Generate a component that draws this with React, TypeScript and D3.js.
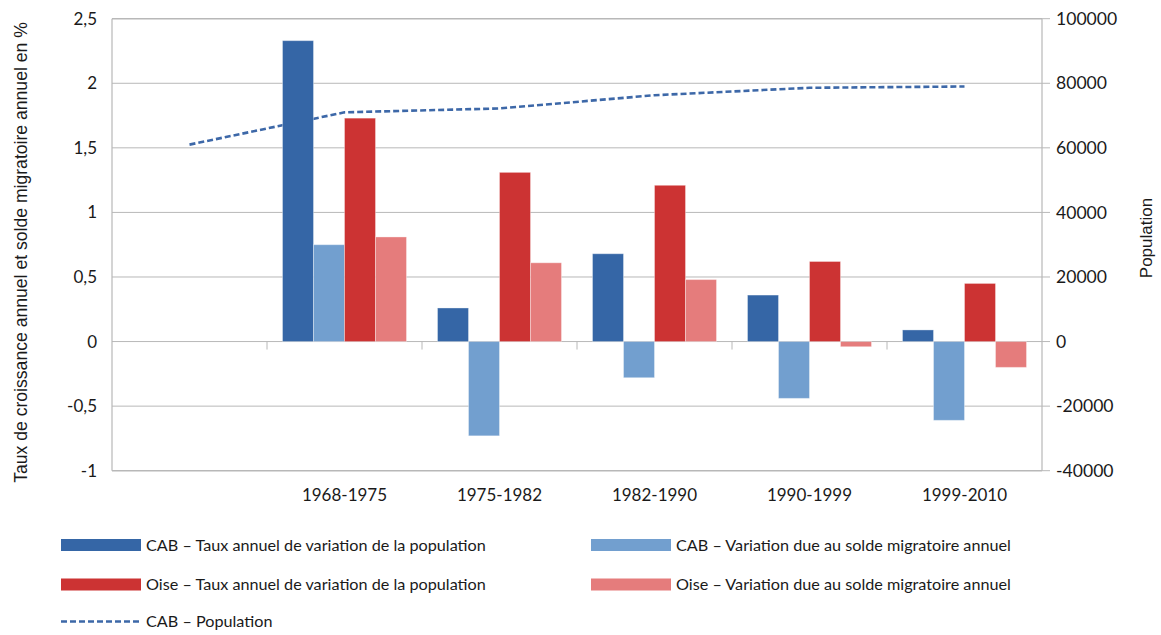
import React from "react";
import * as d3 from "d3";

const categories = ["", "1968-1975", "1975-1982", "1982-1990", "1990-1999", "1999-2010"];
const cabTaux: (number | null)[] = [null, 2.33, 0.26, 0.68, 0.36, 0.09];
const cabMigr: (number | null)[] = [null, 0.75, -0.73, -0.28, -0.44, -0.61];
const oiseTaux: (number | null)[] = [null, 1.73, 1.31, 1.21, 0.62, 0.45];
const oiseMigr: (number | null)[] = [null, 0.81, 0.61, 0.48, -0.04, -0.2];
const cabPopulation = [61000, 71000, 72200, 76300, 78600, 79000];

const leftTicks = [-1, -0.5, 0, 0.5, 1, 1.5, 2, 2.5];
const rightTicks = [-40000, -20000, 0, 20000, 40000, 60000, 80000, 100000];

const seriesNames = [
  "CAB – Taux annuel de variation de la population",
  "CAB – Variation due au solde migratoire annuel",
  "Oise – Taux annuel de variation de la population",
  "Oise – Variation due au solde migratoire annuel",
];
const lineName = "CAB – Population";
const leftTitle = "Taux de croissance annuel et solde migratoire annuel en %";
const rightTitle = "Population";

const colors = ["#3566A6", "#729FCF", "#CC3333", "#E57C7C"];
const lineColor = "#3D68A8";
const gridColor = "#B8B8B8";
const textColor = "#1A1A1A";
const font = "Lato, 'Open Sans', sans-serif";
const titleFont = "'Liberation Sans', Arial, sans-serif";

export default function App() {
  const W = 1161, H = 635;
  const left = 112, right = 1042, top = 18.7, bottom = 470.7;

  const x = d3.scaleBand<string>().domain(categories).range([left, right]).padding(0);
  const seriesKeys = ["0", "1", "2", "3"];
  const xi = d3.scaleBand<string>().domain(seriesKeys).range([0, x.bandwidth()]).paddingInner(0).paddingOuter(0.5);
  const y = d3.scaleLinear().domain([-1, 2.5]).range([bottom, top]);
  const y2 = d3.scaleLinear().domain([-40000, 100000]).range([bottom, top]);

  const series = [cabTaux, cabMigr, oiseTaux, oiseMigr];
  const fmt = (v: number) => String(v).replace(".", ",");

  const line = d3
    .line<number>()
    .x((_, i) => (x(categories[i]) as number) + x.bandwidth() / 2)
    .y((d) => y2(d));

  const legendRows = [
    { y: 545, items: [0, 1] },
    { y: 584.5, items: [2, 3] },
  ];
  const colX = [61, 591];
  const swW = 80;

  return (
    <svg width={W} height={H} style={{ position: "absolute", left: 0, top: 0, background: "#fff" }} fontFamily={font}>
      {leftTicks.map((t) => (
        <line key={"g" + t} x1={left} x2={right} y1={y(t)} y2={y(t)} stroke={gridColor} strokeWidth={t === 2.5 || t === -1 ? 1.6 : 1} />
      ))}
      <line x1={left} x2={left} y1={top} y2={bottom} stroke={gridColor} strokeWidth={1.2} />
      <line x1={right} x2={right} y1={top} y2={bottom} stroke={gridColor} strokeWidth={1.2} />
      {rightTicks.map((t) => (
        <line key={"rt" + t} x1={right} x2={right + 8} y1={y2(t)} y2={y2(t)} stroke={gridColor} strokeWidth={1} />
      ))}
      {categories.slice(1).map((c) => (
        <line key={"ct" + c} x1={x(c) as number} x2={x(c) as number} y1={y(0)} y2={y(0) + 8} stroke={gridColor} strokeWidth={1} />
      ))}
      <path d={line(cabPopulation) || ""} fill="none" stroke={lineColor} strokeWidth={2.6} strokeDasharray="6,3" />
      {series.map((s, si) =>
        s.map((v, ci) => {
          if (v === null) return null;
          const bx = (x(categories[ci]) as number) + (xi(seriesKeys[si]) as number);
          const y0 = y(0), yv = y(v);
          return (
            <rect key={si + "-" + ci} x={bx} width={xi.bandwidth()} y={Math.min(y0, yv)} height={Math.abs(yv - y0)} fill={colors[si]} stroke="#ffffff" strokeOpacity={0.35} strokeWidth={1} />
          );
        })
      )}
      {leftTicks.map((t) => (
        <text key={"lt" + t} x={97} y={y(t)} dy="0.35em" textAnchor="end" fontSize={17} fill={textColor}>
          {fmt(t)}
        </text>
      ))}
      {rightTicks.map((t) => (
        <text key={"rl" + t} x={1056} y={y2(t)} dy="0.35em" textAnchor="start" fontSize={17.6} fill={textColor}>
          {String(t)}
        </text>
      ))}
      {categories.map((c) =>
        c ? (
          <text key={"cl" + c} x={(x(c) as number) + x.bandwidth() / 2} y={495} dy="0.35em" textAnchor="middle" fontSize={17} fill={textColor}>
            {c}
          </text>
        ) : null
      )}
      <text transform={`translate(21, 252.5) rotate(-90)`} textAnchor="middle" dy="0.35em" fontSize={17.6} fill={textColor} fontFamily={titleFont}>
        {leftTitle}
      </text>
      <text transform={`translate(1146, 238) rotate(-90)`} textAnchor="middle" dy="0.35em" fontSize={17} fill={textColor} fontFamily={titleFont}>
        {rightTitle}
      </text>
      {legendRows.map((row) =>
        row.items.map((si, k) => (
          <g key={"lg" + si}>
            <rect x={colX[k]} y={row.y - 6} width={swW} height={12} fill={colors[si]} />
            <text x={colX[k] + swW + 5} y={row.y} dy="0.35em" fontSize={16.2} fill={textColor}>
              {seriesNames[si]}
            </text>
          </g>
        ))
      )}
      <line x1={colX[0]} x2={colX[0] + swW} y1={621.5} y2={621.5} stroke={lineColor} strokeWidth={2.6} strokeDasharray="6,3" />
      <text x={colX[0] + swW + 5} y={621.5} dy="0.35em" fontSize={16.2} fill={textColor}>
        {lineName}
      </text>
    </svg>
  );
}
